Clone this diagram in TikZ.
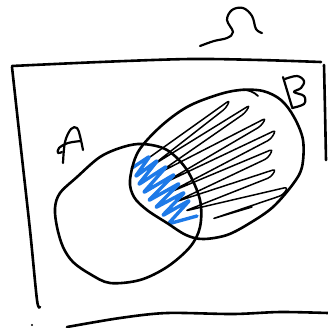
\documentclass[tikz,border=0pt]{standalone}
\begin{document}
\begin{tikzpicture}[x=1pt,y=-1pt,
  ink/.style={line width=2.6pt,line cap=round,line join=round,black},
  thin ink/.style={line width=1.5pt,line cap=round,line join=round,black,rounded corners=3.5pt},
  blueink/.style={line width=3.4pt,line cap=round,line join=round,color={rgb,255:red,30;green,122;blue,232},rounded corners=2.5pt}]
\useasboundingbox (0,0) rectangle (328,327);
% Omega
\draw[ink,line width=2.2pt] plot[smooth,tension=0.6] coordinates {(200,46) (214,41) (227,38) (233,32) (227,20) (232,10) (243,8) (252,16) (256,29) (262,33)};
% frame
\draw[ink] plot[smooth,tension=0.5] coordinates {(12,66) (100,62) (190,59) (260,60) (321,62)};
\draw[ink] plot[smooth,tension=0.5] coordinates {(12,67) (20,140) (30,230) (37,300) (40,307)};
\draw[ink] plot[smooth,tension=0.5] coordinates {(67,327) (120,318) (167,313) (233,314) (280,312) (328,313)};
\fill (32,325) circle (1.2pt);
\draw[ink] plot[smooth,tension=0.5] coordinates {(324,65) (325,110) (326,160)};
% hatching in B
\draw[thin ink] (150,157) -- (230,100) -- (226,108) -- (153,165) -- (250,105) -- (245,113)
  -- (157,174) -- (266,118) -- (261,126) -- (162,184) -- (276,130) -- (271,139)
  -- (168,193) -- (273,149) -- (268,158) -- (175,202) -- (276,169) -- (271,177)
  -- (185,211) -- (288,187) -- (283,195) -- (212,219) -- (252,207);
% blue scribble
\draw[blueink] (132,168) -- (150,156) -- (135,177) -- (158,160) -- (138,185) -- (167,166) -- (143,193) -- (175,174) -- (148,201) -- (180,183) -- (155,208) -- (185,192) -- (162,216) -- (190,200) -- (168,224) -- (197,216);
% set A
\draw[ink] plot[smooth cycle,tension=0.55] coordinates {(55,208) (60,193) (77,177) (100,157) (123,147) (143,144) (167,150) (187,170) (200,200) (200,227) (190,247) (167,267) (140,280) (110,283) (90,274) (73,262) (63,247) (57,227)};
% set B
\draw[ink] plot[smooth cycle,tension=0.55] coordinates {(130,180) (138,152) (160,127) (187,107) (217,95) (240,90) (263,91) (281,100) (294,117) (303,140) (302,167) (293,184) (273,207) (250,223) (227,235) (203,239) (186,235) (167,223) (147,210) (134,197)};
\draw[ink,line width=1.8pt] (240,90) .. controls (248,89) and (254,92) .. (258,96);
% labels A and B
\draw[ink,line width=2.2pt] plot[smooth,tension=0.6] coordinates {(63,163) (65,142) (71,129) (77,128) (80,136) (83,150)};
\draw[ink,line width=2.2pt] plot[smooth,tension=0.6] coordinates {(81,141) (68,143) (59,148) (58,153) (62,152)};
\draw[ink,line width=2.2pt] (283,77) -- (292,107);
\draw[ink,line width=2.2pt] plot[smooth,tension=0.6] coordinates {(285,79) (297,76) (304,81) (301,88) (294,92) (304,96) (304,104) (292,108)};
\end{tikzpicture}
\end{document}
